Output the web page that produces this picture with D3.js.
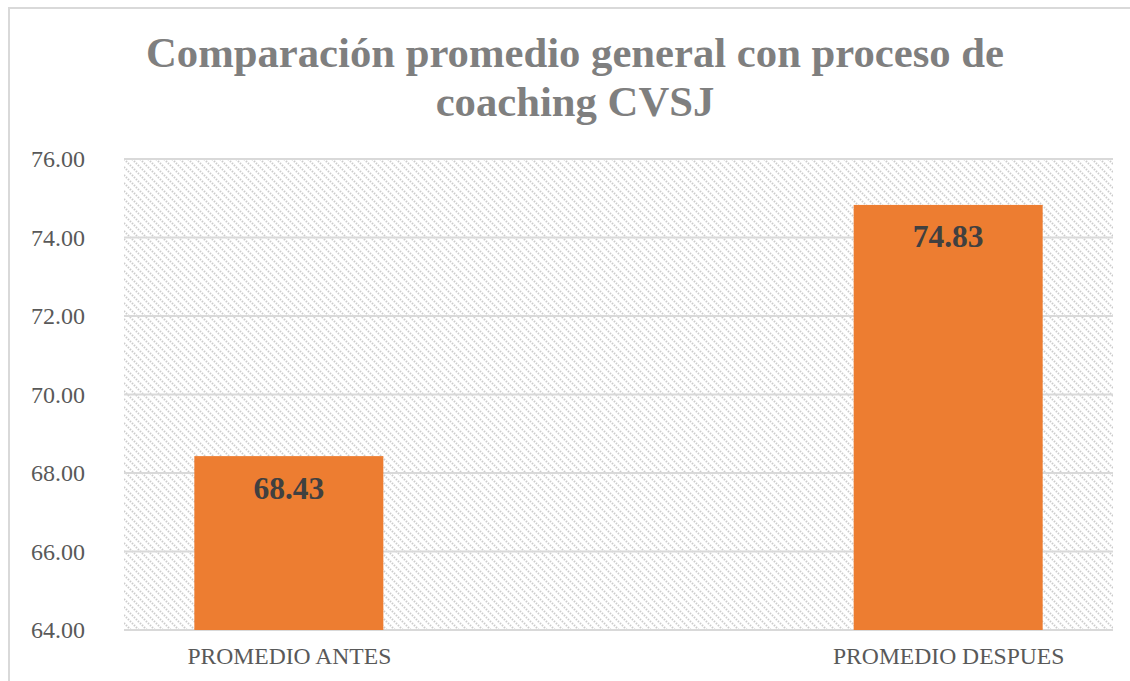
<!DOCTYPE html>
<html>
<head>
<meta charset="utf-8">
<script src="https://cdn.jsdelivr.net/npm/d3@7"></script>
<style>
  body { margin: 0; background: #fff; }
  svg { display: block; }
</style>
</head>
<body>
<svg id="chart"></svg>
<script>
// chart data
var categories = ["PROMEDIO ANTES", "PROMEDIO DESPUES"]
var promedios = [68.43, 74.83]
var yTicks = [64, 66, 68, 70, 72, 74, 76]
var titleLines = ["Comparación promedio general con proceso de", "coaching CVSJ"]

var serif = "Liberation Serif, Times New Roman, DejaVu Serif, serif"

var screen = {width: 1130, height: 681}
var margins = {left: 124, right: 17, top: 159, bottom: 51}
var graph = {
    width: screen.width - margins.left - margins.right,
    height: screen.height - margins.top - margins.bottom
}

var svg = d3.select("#chart")
    .attr("width", screen.width)
    .attr("height", screen.height)

// hatch pattern for the plot area
var defs = svg.append("defs")
var pat = defs.append("pattern")
    .attr("id", "hatch")
    .attr("patternUnits", "userSpaceOnUse")
    .attr("width", 8)
    .attr("height", 8)
pat.append("path")
    .attr("d", "M-2,-2 L10,10 M-2,6 L2,10 M6,-2 L10,2")
    .attr("stroke", "#cccccc")
    .attr("stroke-width", 2)
    .attr("stroke-dasharray", "1.5,1.3")

// outer chart border
svg.append("rect")
    .attr("x", 9)
    .attr("y", 8)
    .attr("width", screen.width + 10)
    .attr("height", screen.height + 10)
    .attr("fill", "none")
    .attr("stroke", "#d9d9d9")
    .attr("stroke-width", 2)

var xScale = d3.scalePoint()
    .domain(categories)
    .range([0, graph.width])
    .padding(0.25)

var yScale = d3.scaleLinear()
    .domain([64, 76])
    .range([graph.height, 0])

var target = svg.append("g")
    .attr("transform", "translate(" + margins.left + "," + margins.top + ")")

target.append("rect")
    .attr("width", graph.width)
    .attr("height", graph.height)
    .attr("fill", "url(#hatch)")

// gridlines
target.selectAll(".grid")
    .data(yTicks)
    .enter()
    .append("line")
    .attr("class", "grid")
    .attr("x1", 0)
    .attr("x2", graph.width)
    .attr("y1", function(d) { return yScale(d) })
    .attr("y2", function(d) { return yScale(d) })
    .attr("stroke", "#d9d9d9")
    .attr("stroke-width", 2)

var barWidth = 189

target.selectAll(".bar")
    .data(promedios)
    .enter()
    .append("rect")
    .attr("class", "bar")
    .attr("x", function(d, i) { return xScale(categories[i]) - barWidth / 2 })
    .attr("y", function(d) { return yScale(d) })
    .attr("width", barWidth)
    .attr("height", function(d) { return graph.height - yScale(d) })
    .attr("fill", "#ed7d31")

target.selectAll(".lbl")
    .data(promedios)
    .enter()
    .append("text")
    .attr("class", "lbl")
    .attr("x", function(d, i) { return xScale(categories[i]) })
    .attr("y", function(d) { return yScale(d) + 42.5 })
    .attr("text-anchor", "middle")
    .style("font-family", serif)
    .attr("font-weight", "bold")
    .attr("font-size", 31.5)
    .attr("fill", "#404040")
    .text(function(d) { return d.toFixed(2) })

// axes
var yAxis = d3.axisLeft(yScale)
    .tickValues(yTicks)
    .tickSize(0)
    .tickPadding(39)
    .tickFormat(d3.format(".2f"))
var ya = target.append("g").call(yAxis)
ya.select(".domain").remove()
ya.selectAll("text")
    .style("font-family", serif)
    .attr("font-size", 24)
    .attr("fill", "#595959")

var xAxis = d3.axisBottom(xScale).tickSize(0).tickPadding(17)
var xa = target.append("g")
    .attr("transform", "translate(0," + graph.height + ")")
    .call(xAxis)
xa.select(".domain").remove()
xa.selectAll("text")
    .style("font-family", serif)
    .attr("font-size", 23.6)
    .attr("fill", "#595959")

// title
svg.append("text")
    .attr("x", 575)
    .attr("y", 67)
    .attr("text-anchor", "middle")
    .style("font-family", serif)
    .attr("font-weight", "bold")
    .attr("font-size", 42.7)
    .attr("fill", "#7f7f7f")
    .selectAll("tspan")
    .data(titleLines)
    .enter()
    .append("tspan")
    .attr("x", 575)
    .attr("dy", function(d, i) { return i == 0 ? 0 : 49 })
    .text(function(d) { return d })
</script>
</body>
</html>
